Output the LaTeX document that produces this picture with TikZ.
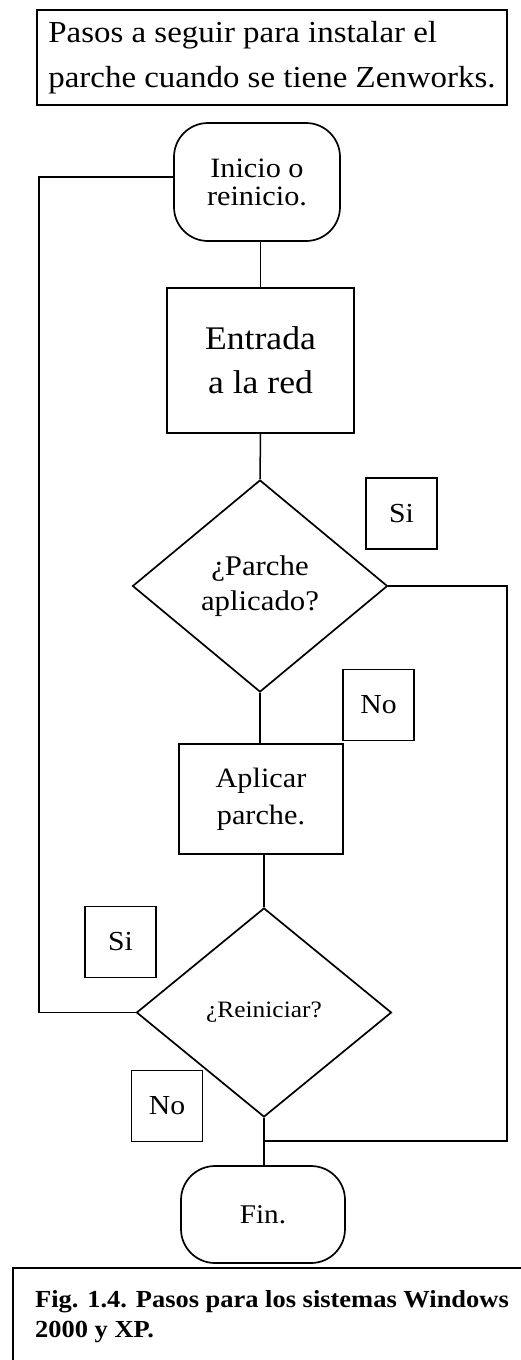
\documentclass[tikz,border=0pt]{standalone}
\usepackage{fontspec}
\setmainfont{Liberation Serif}[FakeStretch=1.08]
\usetikzlibrary{shapes.geometric}
\begin{document}
\begin{tikzpicture}[x=1pt,y=-1pt,
  box/.style={draw, line width=1.7pt, inner sep=0pt, align=center},
  terminal/.style={box, rounded corners=34pt},
  decision/.style={draw, line width=1.7pt, diamond, inner sep=0pt, align=center},
  tag/.style={box, minimum width=71pt, minimum height=71pt, font=\fontsize{27.5}{30}\selectfont},
  link/.style={line width=1.5pt}]
\useasboundingbox (0,0) rectangle (520,1360);

% heading
\node[box, minimum width=470pt, minimum height=95pt, align=left,
      font=\fontsize{30.5}{45}\selectfont] (title) at (272,57.5)
  {Pasos a seguir para instalar el\\parche cuando se tiene Zenworks.};

% flow chart
\node[terminal, minimum width=166pt, minimum height=118pt,
      font=\fontsize{28}{28}\selectfont] (start) at (257,182) {Inicio o\\reinicio.};
\node[box, minimum width=187pt, minimum height=145pt,
      font=\fontsize{33}{44}\selectfont] (entry) at (260.5,360.5) {Entrada\\a la red};
\node[decision, minimum width=255pt, minimum height=212pt,
      font=\fontsize{28.5}{35}\selectfont] (patched) at (260,586) {¿Parche\\aplicado?};
\node[tag] (yes1) at (401.5,513.5) {Si};
\node[tag] (no1) at (378.5,705) {No};
\node[box, minimum width=164pt, minimum height=110pt,
      font=\fontsize{28}{37}\selectfont] (apply) at (261,799) {Aplicar\\parche.};
\node[decision, minimum width=255pt, minimum height=209pt,
      font=\fontsize{23.5}{28}\selectfont] (restart) at (264,1012.5) {¿Reiniciar?};
\node[tag] (yes2) at (120.5,942) {Si};
\node[tag] (no2) at (167,1106) {No};
\node[terminal, minimum width=164pt, minimum height=97pt,
      font=\fontsize{27}{30}\selectfont] (end) at (263,1214.5) {Fin.};

% connectors
\draw[link] (entry.north) -- (entry.north |- start.south);
\draw[link] (entry.south) -- (patched.north);
\draw[link] (patched.south) -- (patched.south |- apply.north);
\draw[link] (restart.north) -- (restart.north |- apply.south);
\draw[link] (restart.south) -- (restart.south |- end.north);
\coordinate (rightrail) at (507,1141);
\draw[link] (patched.east) -| (rightrail) -- (rightrail -| restart.south);
\coordinate (leftrail) at (39,600);
\draw[link] (restart.west) -| (leftrail) |- ([yshift=5pt]start.west);

% caption
\draw[line width=1.7pt] (13,1362) -- (13,1268) -- (522,1268);
\node[anchor=north west, align=left, inner sep=0pt,
      font=\bfseries\fontsize{24.5}{30}\selectfont] (caption) at (35,1290)
  {Fig. 1.4. Pasos para los sistemas Windows\\2000 y XP.};
\end{tikzpicture}
\end{document}
